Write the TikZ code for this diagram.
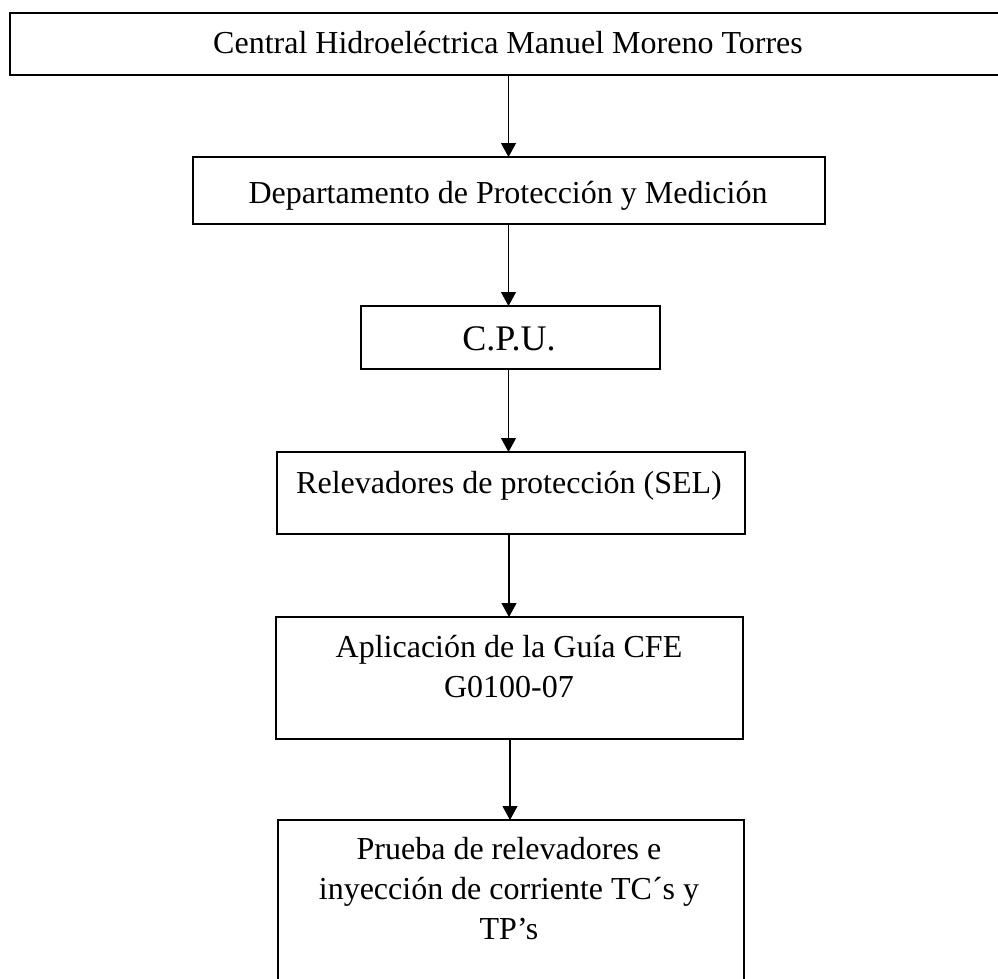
\documentclass[tikz,border=0pt]{standalone}
\usepackage{fontspec}
\setmainfont{Liberation Serif}
\usetikzlibrary{arrows.meta}
\begin{document}
\begin{tikzpicture}[x=1pt,y=-1pt,
  box/.style={draw=black,line width=2.2pt,rectangle,inner sep=0pt,outer sep=0pt,fill=none},
  txt/.style={anchor=base,inner sep=0pt,align=center,font=\fontsize{32}{40}\selectfont},
  arr/.style={draw=black,line width=1.1pt,-{Triangle[width=15pt,length=14pt]}}]
\useasboundingbox (0,0) rectangle (998,978);
\clip (0,0) rectangle (998,978);
\fill[white] (0,0) rectangle (998,978);
% boxes
\node[box,minimum width=1000pt,minimum height=62pt] (b1) at (510,44) {};
\node[box,minimum width=632pt,minimum height=67pt] (b2) at (509,190.5) {};
\node[box,minimum width=299pt,minimum height=63pt] (b3) at (510.5,337.5) {};
\node[box,minimum width=468pt,minimum height=82pt] (b4) at (511,493) {};
\node[box,minimum width=467pt,minimum height=122pt] (b5) at (509.5,678) {};
\node[box,minimum width=466pt,minimum height=180pt] (b6) at (511,910) {};
% texts (base anchor = baseline of the last line)
\node[txt] (t1) at (508,53) {Central Hidroeléctrica Manuel Moreno Torres};
\node[txt] (t2) at (508,203) {Departamento de Protección y Medición};
\node[txt,font=\fontsize{36}{44}\selectfont] (t3) at (509,350) {C.P.U.};
\node[txt] (t4) at (509,493) {Relevadores de protección (SEL)};
\node[txt] (t5) at (509,697) {Aplicación de la Guía CFE\\G0100-07};
\node[txt] (t6) at (509,939) {Prueba de relevadores e\\inyección de corriente TC´s y\\TP’s};
% arrows
\draw[arr] (b1.south -| 508.5,0) -- (b2.north -| 508.5,0);
\draw[arr] (b2.south -| 508.5,0) -- (b3.north -| 508.5,0);
\draw[arr] (b3.south -| 508.5,0) -- (b4.north -| 508.5,0);
\draw[arr] (b4.south -| 509,0) -- (b5.north -| 509,0);
\draw[arr] (b5.south -| 510,0) -- (b6.north -| 510,0);
\end{tikzpicture}
\end{document}
